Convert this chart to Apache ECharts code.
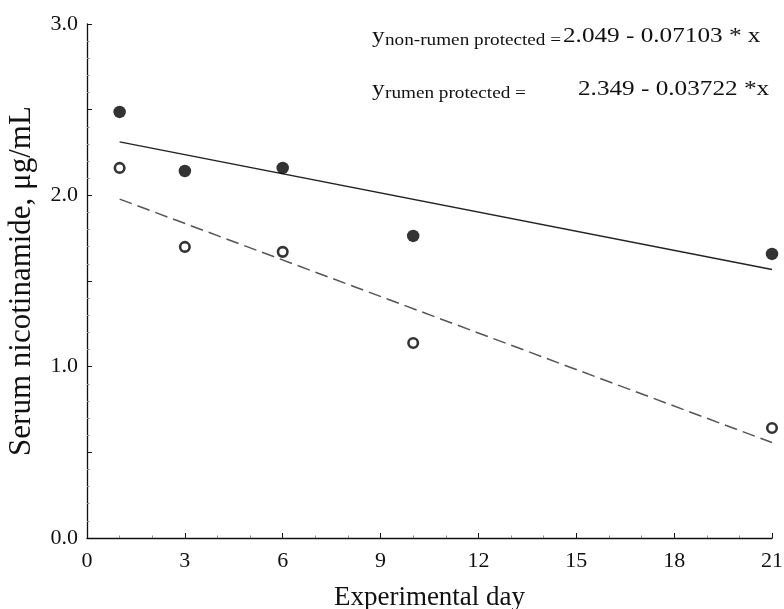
<!DOCTYPE html>
<html>
<head>
<meta charset="utf-8">
<script src="https://cdn.jsdelivr.net/npm/echarts@6/dist/echarts.min.js"></script>
<style>html,body{margin:0;padding:0;background:#fff}#c{width:784px;height:609px}</style>
</head>
<body>
<div id="c"></div>
<script>
// Data
const days = [1, 3, 6, 10, 21];
const rumenProtected = [2.487, 2.142, 2.160, 1.763, 1.658];      // filled circles
const nonRumenProtected = [2.160, 1.699, 1.670, 1.138, 0.642];   // open circles
const rumenFitLine = [[1, 2.312], [21, 1.567]];                  // solid line
const nonRumenFitLine = [[1, 1.978], [21, 0.557]];               // dashed line
const xTicks = [0, 3, 6, 9, 12, 15, 18, 21];
const yTicks = [0.0, 1.0, 2.0, 3.0];

const FONT = "'Liberation Serif','Times New Roman',serif";
const chart = echarts.init(document.getElementById('c'));

function eqText(x, y, text, size) {
  return {
    type: 'text', x: x, y: y, scaleX: 1.2, scaleY: 1, silent: true,
    style: { text: text, fontFamily: FONT, fontSize: size, fill: '#111',
             verticalAlign: 'middle', align: 'left' }
  };
}

chart.setOption({
  animation: false,
  backgroundColor: '#fff',
  grid: { left: 87, right: 12, top: 24, bottom: 71, containLabel: false, outerBoundsMode: 'none' },
  xAxis: {
    type: 'value', min: 0, max: 21, interval: 3,
    name: 'Experimental day', nameLocation: 'middle', nameGap: 46,
    nameTextStyle: { fontFamily: FONT, fontSize: 27, color: '#111' },
    axisLine: { lineStyle: { color: '#111', width: 1.3 } },
    axisTick: { inside: true, length: 5, lineStyle: { color: '#111' } },
    minorTick: { show: true, splitNumber: 3, length: 2.5, lineStyle: { color: '#888' } },
    splitLine: { show: false },
    axisLabel: { fontFamily: FONT, fontSize: 22, color: '#111', margin: 12,
      formatter: v => xTicks.includes(v) ? String(v) : '' }
  },
  yAxis: {
    type: 'value', min: 0, max: 3, interval: 0.5,
    name: 'Serum nicotinamide, μg/mL', nameLocation: 'middle', nameGap: 50, nameRotate: 90,
    nameTextStyle: { fontFamily: FONT, fontSize: 31, color: '#111' },
    axisLine: { show: true, lineStyle: { color: '#111', width: 1.3 } },
    axisTick: { show: true, inside: true, length: 5, lineStyle: { color: '#111' } },
    minorTick: { show: true, splitNumber: 5, length: 2.5, lineStyle: { color: '#888' } },
    splitLine: { show: false },
    axisLabel: { fontFamily: FONT, fontSize: 22, color: '#111', margin: 9,
      formatter: v => yTicks.some(t => Math.abs(t - v) < 1e-9) ? v.toFixed(1) : '' }
  },
  series: [
    {
      type: 'line', data: rumenFitLine, symbol: 'none', silent: true,
      lineStyle: { color: '#222', width: 1.5, type: 'solid' }, z: 2
    },
    {
      type: 'line', data: nonRumenFitLine, symbol: 'none', silent: true,
      lineStyle: { color: '#555', width: 1.5, type: [13, 6] }, z: 2
    },
    {
      type: 'scatter', data: days.map((d, i) => [d, rumenProtected[i]]),
      symbol: 'circle', symbolSize: 12.5,
      itemStyle: { color: '#000', borderWidth: 0 }, z: 3
    },
    {
      type: 'scatter', data: days.map((d, i) => [d, nonRumenProtected[i]]),
      symbol: 'circle', symbolSize: 9.5,
      itemStyle: { color: '#fff', borderColor: '#000', borderWidth: 2.6 }, z: 3
    }
  ],
  graphic: [
    eqText(372, 36, 'y', 21),
    eqText(385, 41, 'non-rumen protected =', 16),
    eqText(563, 36, '2.049 - 0.07103 * x', 21),
    eqText(372, 89, 'y', 21),
    eqText(385, 94, 'rumen protected =', 16),
    eqText(578, 89, '2.349 - 0.03722 *x', 21)
  ]
});
</script>
</body>
</html>
